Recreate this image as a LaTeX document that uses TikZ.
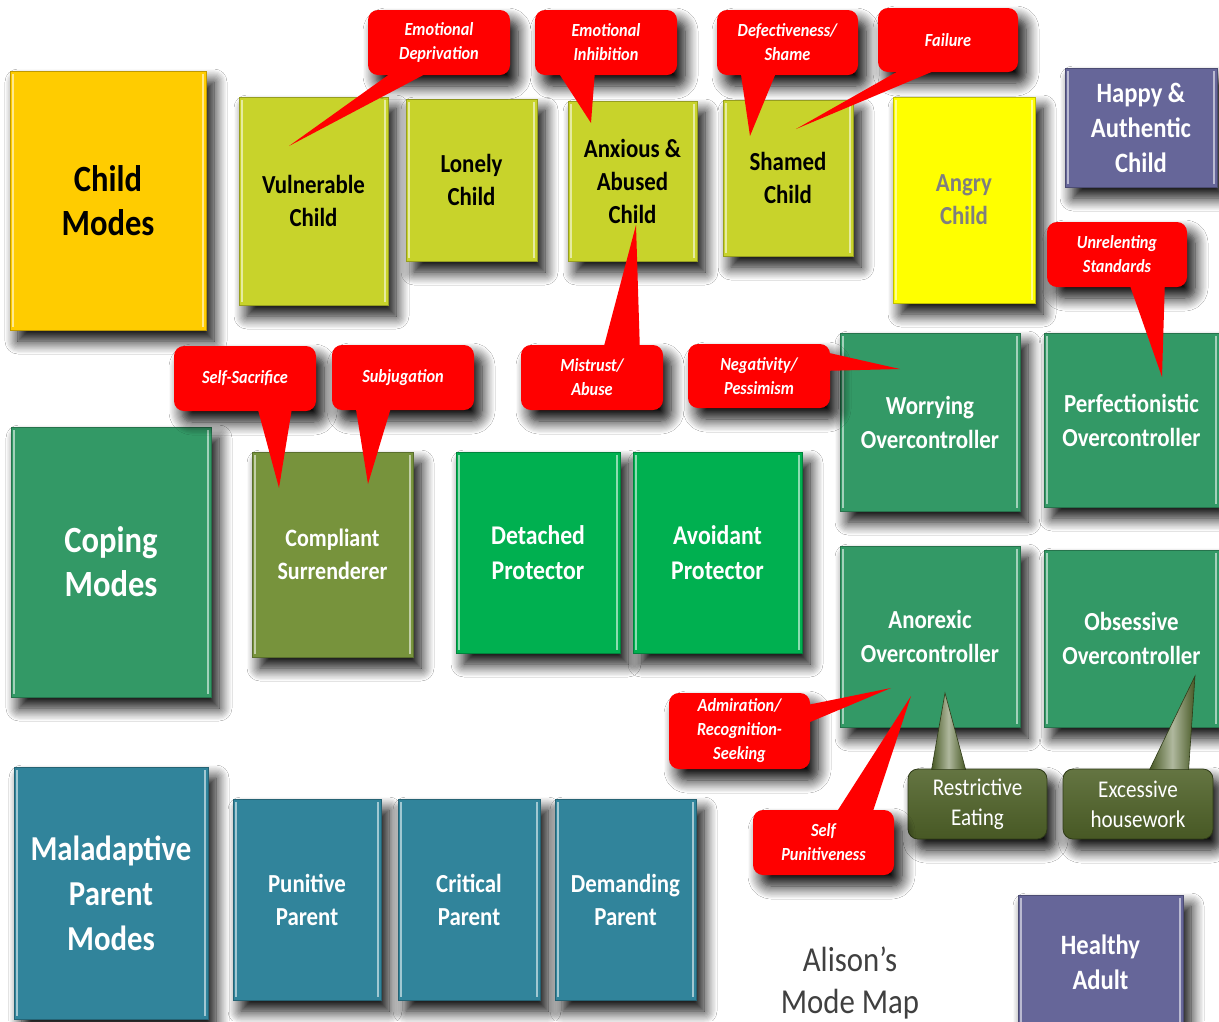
\documentclass[tikz,border=0pt]{standalone}
\usepackage{fontspec}
\setmainfont{Carlito}[FakeStretch=0.88]
\usetikzlibrary{shadows.blur}
\definecolor{cmodes}{HTML}{FFCC00}
\definecolor{cyg}{HTML}{C8D32B}
\definecolor{cyel}{HTML}{FFFF00}
\definecolor{cpurp}{HTML}{666699}
\definecolor{cgreen}{HTML}{339966}
\definecolor{cbright}{HTML}{00B050}
\definecolor{colive}{HTML}{77933C}
\definecolor{cteal}{HTML}{31849B}
\definecolor{cdkol}{HTML}{4F6228}
\definecolor{cred}{HTML}{FF0000}
\definecolor{cgraytxt}{HTML}{7F7F7F}
\definecolor{ctitle}{HTML}{404040}
\tikzset{
  shd/.style={blur shadow={shadow xshift=8pt, shadow yshift=-11pt, shadow blur radius=13pt, shadow blur steps=12, shadow opacity=100}},
  box/.style={shd, draw=#1!75!black, fill=#1, line width=0.8pt, inner sep=0pt, align=center,
    path picture={\draw[#1!45!white, line width=1.6pt]
      ([xshift=3pt,yshift=-3pt]path picture bounding box.north west) -- ([xshift=3pt,yshift=3pt]path picture bounding box.south west)
      ([xshift=-3pt,yshift=-3pt]path picture bounding box.north east) -- ([xshift=-3pt,yshift=3pt]path picture bounding box.south east);}},
  tHuge/.style={font=\bfseries\fontsize{37}{44}\selectfont},
  tChild/.style={font=\bfseries\fontsize{26}{33}\selectfont},
  tHappy/.style={font=\bfseries\fontsize{28}{35}\selectfont},
  tOver/.style={font=\bfseries\fontsize{26}{34}\selectfont},
  tComp/.style={font=\bfseries\fontsize{25}{33}\selectfont},
  tProt/.style={font=\bfseries\fontsize{27}{35}\selectfont},
  tMal/.style={font=\bfseries\fontsize{35}{45}\selectfont},
  tPar/.style={font=\bfseries\fontsize{26}{33}\selectfont},
  callout/.style={shd, fill=cred, rounded corners=10pt, inner sep=0pt, align=center, text=white,
    font=\bfseries\itshape\fontsize{18.5}{24}\selectfont},
  ptr/.style={fill=cred},
  olivec/.style={shd, draw=cdkol!60!black, line width=0.8pt, top color=cdkol!88!white, bottom color=cdkol!90!black,
    rounded corners=10pt, inner sep=0pt, align=center, text=white, font=\fontsize{24}{30}\selectfont},
  olivept/.style={draw=cdkol!60!black, line width=0.6pt, left color=cdkol!90!black, right color=cdkol!90!black, middle color=cdkol!45!white},
  titletext/.style={font=\fontsize{35}{42}\selectfont, text=ctitle, align=center}
}
\begin{document}
\begin{tikzpicture}[x=1pt,y=-1pt]
\useasboundingbox[fill=white] (0,0) rectangle (1219,1021);
% child modes row
\node[box=cmodes, minimum width=196pt, minimum height=259pt, text=black, tHuge] (child) at (108,200.5) {Child\\Modes};
\node[box=cyg, minimum width=149pt, minimum height=208pt, text=black, tChild] (vuln) at (313.5,201) {Vulnerable\\Child};
\node[box=cyg, minimum width=131pt, minimum height=162pt, text=black, tChild] (lonely) at (471.5,180) {Lonely\\Child};
\node[box=cyg, minimum width=129pt, minimum height=160pt, text=black, tChild] (anx) at (632.5,181) {Anxious \&\\Abused\\Child};
\node[box=cyg, minimum width=130pt, minimum height=156pt, text=black, tChild] (shamed) at (788,178) {Shamed\\Child};
\node[box=cyel, minimum width=142pt, minimum height=206pt, text=cgraytxt, tChild] (angry) at (964,200) {Angry\\Child};
\node[box=cpurp, minimum width=152pt, minimum height=119pt, text=white, tHappy] (happy) at (1141,127.5) {Happy \&\\Authentic\\Child};
% coping modes
\node[box=cgreen, minimum width=180pt, minimum height=178pt, text=white, tOver] (worry) at (930,422) {Worrying\\Overcontroller};
\node[box=cgreen, minimum width=175pt, minimum height=174pt, text=white, tOver] (perf) at (1131.5,420) {Perfectionistic\\Overcontroller};
\node[box=cgreen, minimum width=200pt, minimum height=270pt, text=white, tHuge] (coping) at (111,562) {Coping\\Modes};
\node[box=colive, minimum width=161pt, minimum height=205pt, text=white, tComp] (compl) at (332.5,554.5) {Compliant\\Surrenderer};
\node[box=cbright, minimum width=164pt, minimum height=201pt, text=white, tProt] (detached) at (538,552.5) {Detached\\Protector};
\node[box=cbright, minimum width=169pt, minimum height=201pt, text=white, tProt] (avoid) at (717.5,552.5) {Avoidant\\Protector};
\node[box=cgreen, minimum width=180pt, minimum height=181pt, text=white, tOver] (anor) at (930,636.5) {Anorexic\\Overcontroller};
\node[box=cgreen, minimum width=175pt, minimum height=177pt, text=white, tOver] (obs) at (1131.5,638.5) {Obsessive\\Overcontroller};
% parent modes
\node[box=cteal, minimum width=194pt, minimum height=252pt, text=white, tMal] (mal) at (111,893) {Maladaptive\\Parent\\Modes};
\node[box=cteal, minimum width=148pt, minimum height=201pt, text=white, tPar] (pun) at (307,899.5) {Punitive\\Parent};
\node[box=cteal, minimum width=142pt, minimum height=201pt, text=white, tPar] (crit) at (469,899.5) {Critical\\Parent};
\node[box=cteal, minimum width=141pt, minimum height=201pt, text=white, tPar] (dem) at (625.5,899.5) {Demanding\\Parent};
\node[box=cpurp, minimum width=165pt, minimum height=135pt, text=white, tHappy] (healthy) at (1100.5,962.5) {Healthy\\Adult};
\node[titletext] (title) at (850,983) {Alison’s\\Mode Map};
% olive callouts
\node[olivec, minimum width=139pt, minimum height=70pt] (rest) at (977.5,804) {Restrictive\\Eating};
\node[olivec, minimum width=150pt, minimum height=70pt] (exc) at (1138,804) {Excessive\\housework};
\coordinate (tRE) at (945,693);
\coordinate (tEH) at (1195,676);
\path[olivept] ([xshift=24pt,yshift=-1pt]rest.north west) -- (tRE) -- ([xshift=58pt,yshift=-1pt]rest.north west) -- cycle;
\path[olivept] ([xshift=87pt,yshift=-1pt]exc.north west) -- (tEH) -- ([xshift=126pt,yshift=-1pt]exc.north west) -- cycle;
% red callouts
\node[callout, minimum width=142pt, minimum height=65pt] (cED) at (439,42.5) {Emotional\\Deprivation};
\node[callout, minimum width=142pt, minimum height=65pt] (cEI) at (606,42.5) {Emotional\\Inhibition};
\node[callout, minimum width=141pt, minimum height=65pt] (cDS) at (787.5,42.5) {Defectiveness/\\Shame};
\node[callout, minimum width=140pt, minimum height=64pt] (cF) at (948,40) {Failure};
\node[callout, minimum width=140pt, minimum height=65pt] (cUS) at (1117,254.5) {Unrelenting\\Standards};
\node[callout, minimum width=142pt, minimum height=65pt] (cMA) at (592,377.5) {Mistrust/\\Abuse};
\node[callout, minimum width=142pt, minimum height=64pt] (cNP) at (759,376) {Negativity/\\Pessimism};
\node[callout, minimum width=142pt, minimum height=65pt] (cSS) at (245,378.5) {Self-Sacrifice};
\node[callout, minimum width=142pt, minimum height=65pt] (cSJ) at (403,377.5) {Subjugation};
\node[callout, minimum width=141pt, minimum height=76pt] (cAR) at (739.5,731) {Admiration/\\Recognition-\\Seeking};
\node[callout, minimum width=141pt, minimum height=65pt] (cSP) at (823.5,842.5) {Self\\Punitiveness};
\coordinate (tED) at (289,146);
\coordinate (tEI) at (591,123);
\coordinate (tDS) at (750,136);
\coordinate (tF) at (796,129);
\coordinate (tUS) at (1162,377);
\coordinate (tMA) at (636,225);
\coordinate (tNP) at (900,369);
\coordinate (tSS) at (279,488);
\coordinate (tSJ) at (368,484);
\coordinate (tAR) at (891,688);
\coordinate (tSP) at (911,696);
\fill[ptr] ([xshift=23pt,yshift=2pt]cED.south west) -- (tED) -- ([xshift=59pt,yshift=2pt]cED.south west) -- cycle;
\fill[ptr] ([xshift=24pt,yshift=2pt]cEI.south west) -- (tEI) -- ([xshift=60pt,yshift=2pt]cEI.south west) -- cycle;
\fill[ptr] ([xshift=24pt,yshift=2pt]cDS.south west) -- (tDS) -- ([xshift=59pt,yshift=2pt]cDS.south west) -- cycle;
\fill[ptr] ([xshift=22pt,yshift=2pt]cF.south west) -- (tF) -- ([xshift=58pt,yshift=2pt]cF.south west) -- cycle;
\fill[ptr] ([xshift=83pt,yshift=2pt]cUS.south west) -- (tUS) -- ([xshift=118pt,yshift=2pt]cUS.south west) -- cycle;
\fill[ptr] ([xshift=83pt,yshift=-2pt]cMA.north west) -- (tMA) -- ([xshift=119pt,yshift=-2pt]cMA.north west) -- cycle;
\fill[ptr] ([xshift=-2pt,yshift=-9pt]cNP.north east) -- (tNP) -- ([xshift=-2pt,yshift=-27pt]cNP.north east) -- cycle;
\fill[ptr] ([xshift=84pt,yshift=2pt]cSS.south west) -- (tSS) -- ([xshift=118pt,yshift=2pt]cSS.south west) -- cycle;
\fill[ptr] ([xshift=24pt,yshift=2pt]cSJ.south west) -- (tSJ) -- ([xshift=59pt,yshift=2pt]cSJ.south west) -- cycle;
\fill[ptr] ([xshift=-2pt,yshift=-12pt]cAR.north east) -- (tAR) -- ([xshift=-2pt,yshift=-30pt]cAR.north east) -- cycle;
\fill[ptr] ([xshift=84pt,yshift=-2pt]cSP.north west) -- (tSP) -- ([xshift=120pt,yshift=-2pt]cSP.north west) -- cycle;
\end{tikzpicture}
\end{document}
